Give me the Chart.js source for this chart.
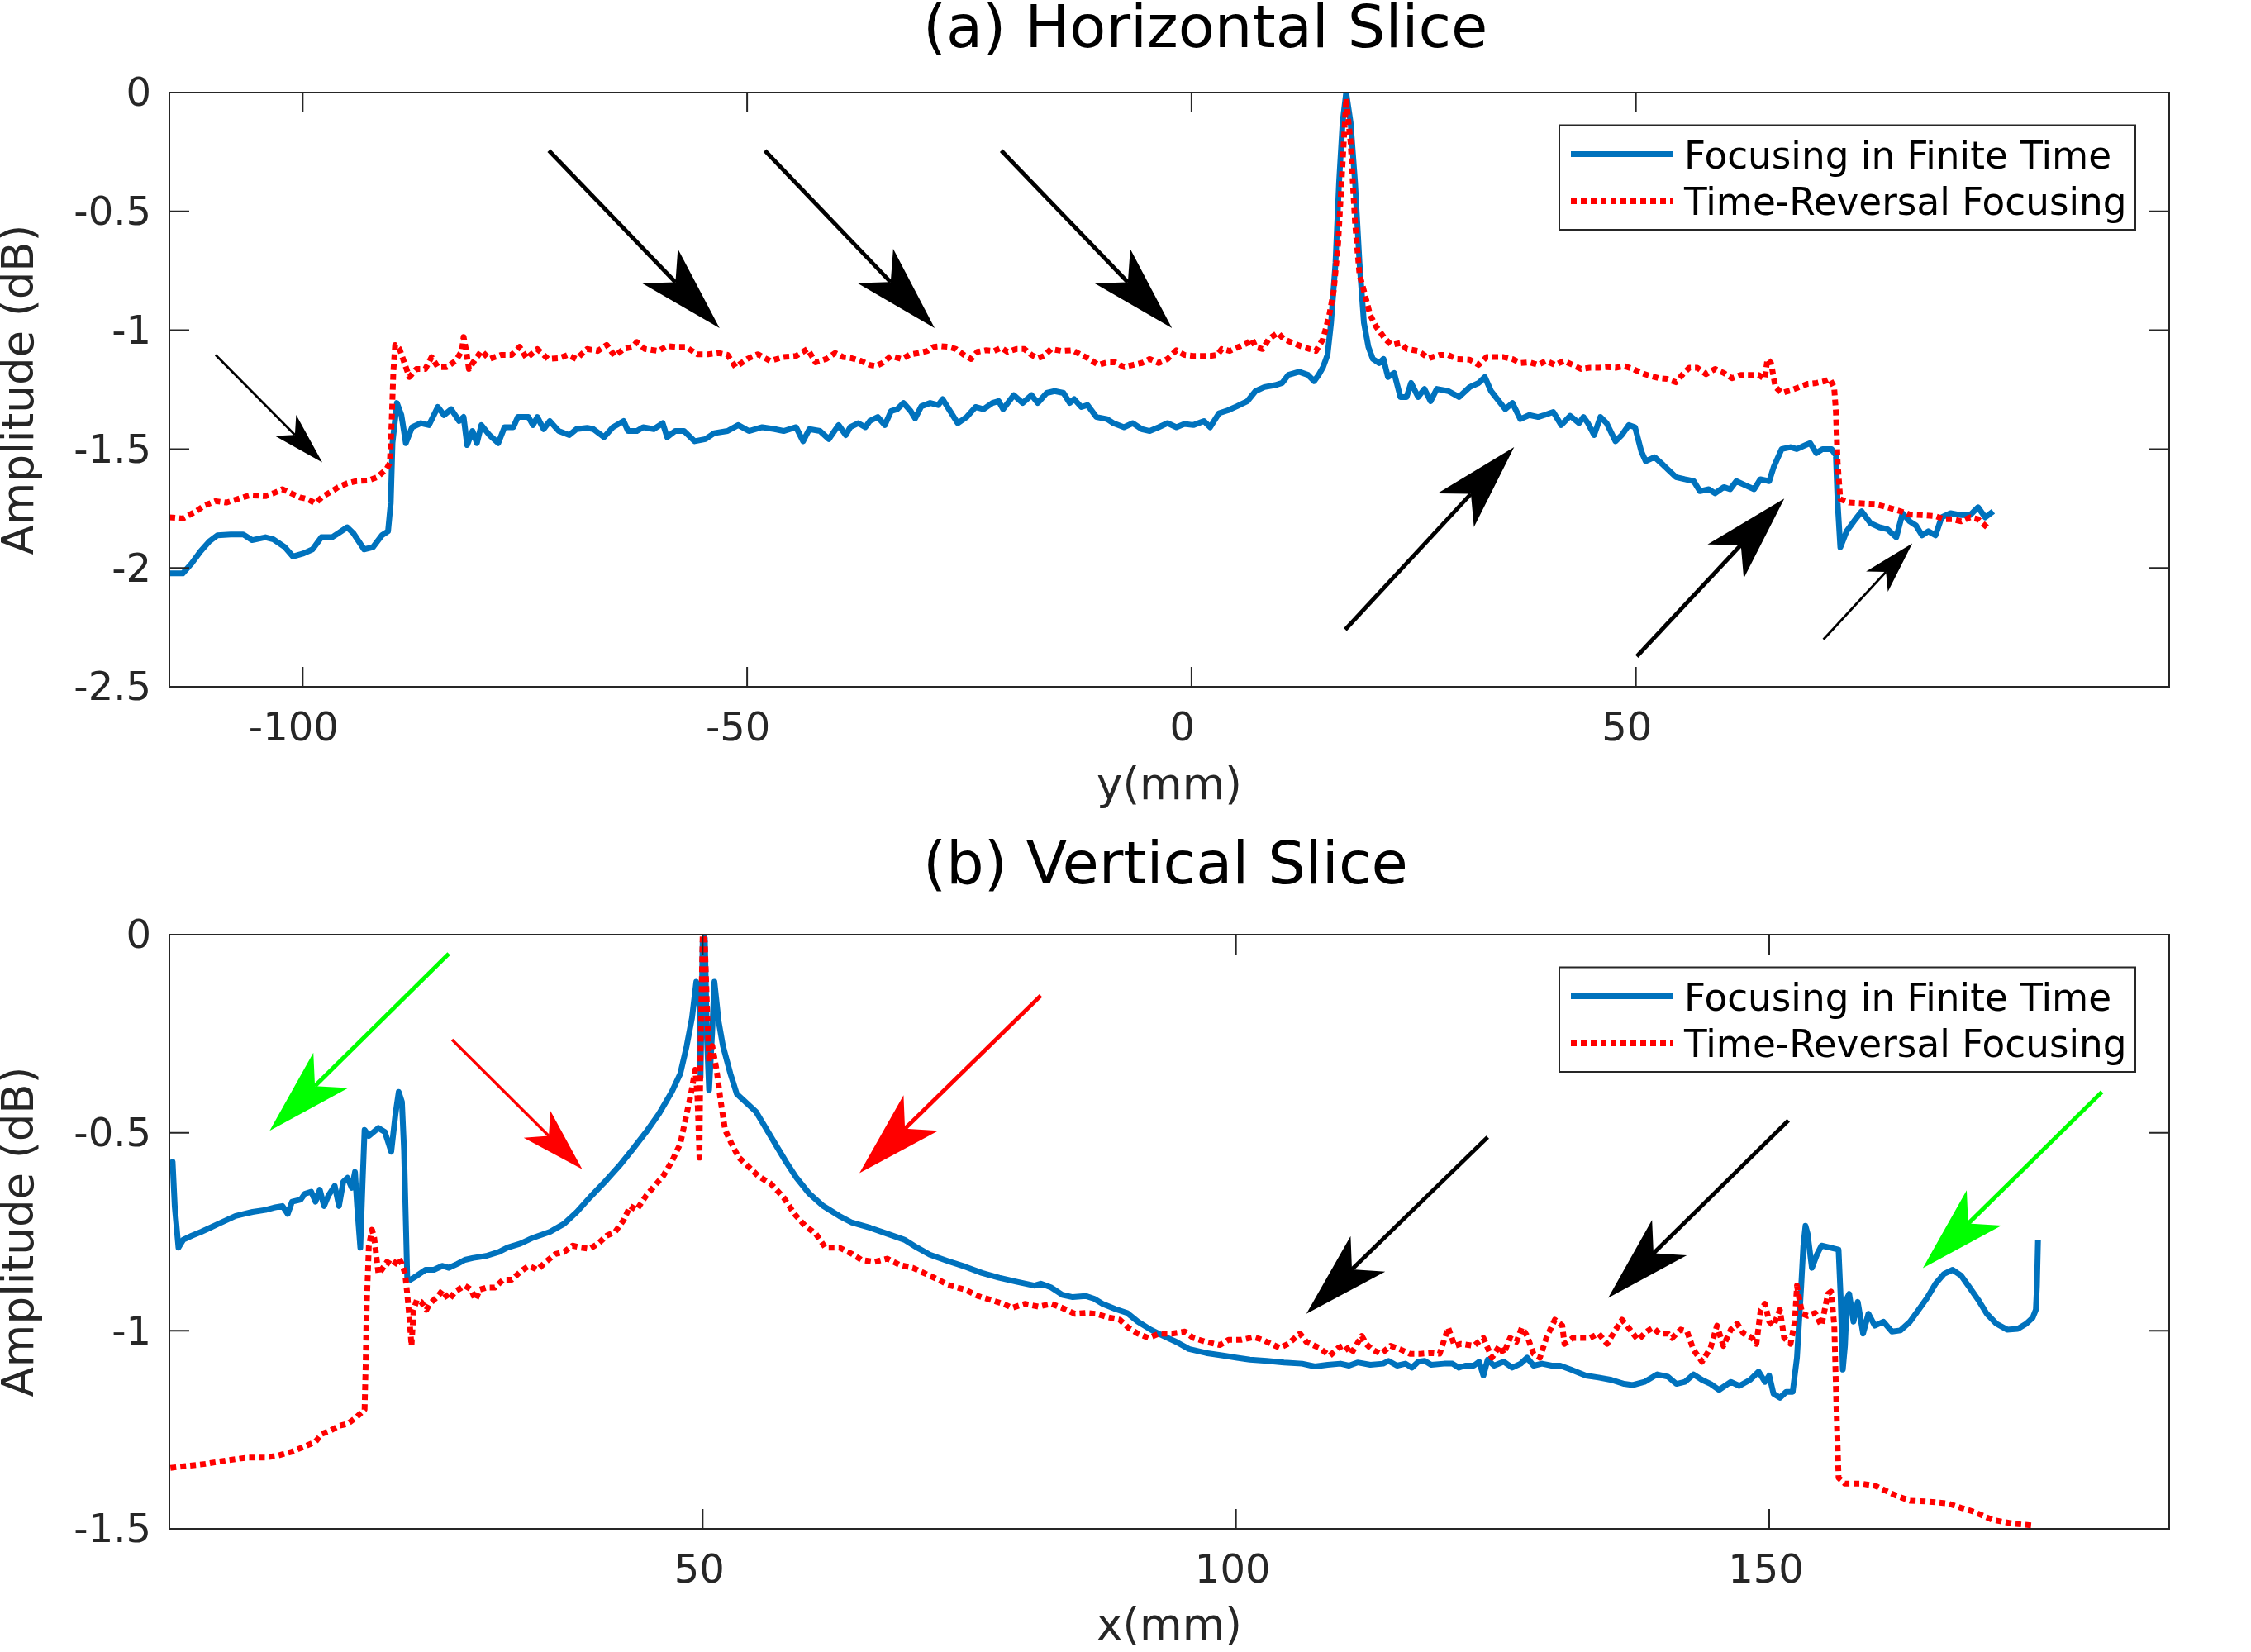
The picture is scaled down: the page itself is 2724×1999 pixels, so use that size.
<!DOCTYPE html>
<html>
<head>
<meta charset="utf-8">
<title>Horizontal and Vertical Slice</title>
<script src="https://cdn.jsdelivr.net/npm/chart.js@4.4.0/dist/chart.umd.min.js"></script>
<style>
  body { margin: 0; background: #fff; }
  canvas { position: absolute; left: 0; }
  #topChart { top: 0; }
  #bottomChart { top: 1000px; }
</style>
</head>
<body>
<canvas id="topChart" width="2724" height="1000"></canvas>
<canvas id="bottomChart" width="2724" height="999"></canvas>
<script>
// (a) horizontal slice, [y(mm), amplitude dB]
const horizFinite = [
  [-115.0,-2.023],[-113.5,-2.023],[-112.5,-1.981],[-111.5,-1.930],[-110.5,-1.888],[-109.6,-1.863],
  [-108.1,-1.859],[-106.7,-1.859],[-105.7,-1.883],[-104.2,-1.871],[-103.3,-1.880],[-102.0,-1.913],
  [-101.1,-1.952],[-99.9,-1.939],[-98.9,-1.922],[-97.9,-1.871],[-96.7,-1.871],[-96.0,-1.854],
  [-95.0,-1.829],[-94.3,-1.854],[-93.1,-1.922],[-92.1,-1.913],[-91.1,-1.863],[-90.4,-1.846],
  [-90.1,-1.728],[-89.9,-1.475],[-89.4,-1.306],[-88.9,-1.357],[-88.4,-1.475],[-87.7,-1.408],
  [-86.7,-1.391],[-85.8,-1.399],[-84.8,-1.323],[-84.1,-1.357],[-83.3,-1.332],[-82.4,-1.382],
  [-81.9,-1.365],[-81.5,-1.483],[-80.9,-1.424],[-80.4,-1.475],[-79.9,-1.399],[-79.0,-1.441],
  [-78.0,-1.475],[-77.3,-1.408],[-76.3,-1.408],[-75.8,-1.365],[-74.6,-1.365],[-74.1,-1.399],
  [-73.6,-1.365],[-72.9,-1.416],[-72.2,-1.382],[-71.2,-1.424],[-70.0,-1.441],[-69.2,-1.416],
  [-68.0,-1.411],[-67.3,-1.416],[-66.1,-1.450],[-65.1,-1.408],[-63.9,-1.382],[-63.4,-1.424],
  [-62.4,-1.424],[-61.7,-1.408],[-60.5,-1.416],[-59.5,-1.391],[-59.0,-1.450],[-58.1,-1.424],
  [-57.1,-1.424],[-55.9,-1.467],[-54.7,-1.458],[-53.7,-1.433],[-52.2,-1.424],[-51.0,-1.399],
  [-49.8,-1.424],[-48.3,-1.408],[-46.9,-1.416],[-45.9,-1.424],[-44.5,-1.408],[-43.7,-1.467],
  [-43.0,-1.416],[-41.8,-1.424],[-40.8,-1.458],[-39.7,-1.399],[-38.9,-1.441],[-38.4,-1.408],
  [-37.5,-1.391],[-36.7,-1.408],[-36.2,-1.382],[-35.3,-1.365],[-34.5,-1.399],[-33.8,-1.340],
  [-33.1,-1.332],[-32.4,-1.306],[-31.6,-1.340],[-31.1,-1.371],[-30.4,-1.320],[-29.4,-1.306],
  [-28.5,-1.315],[-28.0,-1.290],[-27.3,-1.332],[-26.3,-1.391],[-25.3,-1.365],[-24.3,-1.323],
  [-23.4,-1.332],[-22.4,-1.306],[-21.7,-1.298],[-21.2,-1.332],[-20.0,-1.273],[-19.0,-1.306],
  [-18.0,-1.273],[-17.3,-1.306],[-16.3,-1.264],[-15.4,-1.256],[-14.4,-1.264],[-13.7,-1.306],
  [-13.2,-1.290],[-12.4,-1.323],[-11.7,-1.315],[-10.7,-1.365],[-9.5,-1.374],[-8.8,-1.391],
  [-7.6,-1.408],[-6.6,-1.391],[-5.6,-1.416],[-4.7,-1.424],[-3.7,-1.408],[-2.7,-1.391],
  [-1.7,-1.408],[-0.8,-1.394],[0.2,-1.399],[1.4,-1.382],[2.1,-1.408],[3.1,-1.349],
  [4.1,-1.337],[5.1,-1.320],[6.3,-1.298],[7.2,-1.256],[8.2,-1.239],[9.4,-1.231],
  [10.2,-1.222],[10.9,-1.188],[12.1,-1.175],[13.1,-1.188],[13.8,-1.214],[14.3,-1.188],
  [14.8,-1.155],[15.3,-1.104],[15.7,-0.969],[16.2,-0.716],[16.6,-0.379],[17.0,-0.126],
  [17.4,0],[17.9,-0.126],[18.4,-0.379],[18.9,-0.716],[19.4,-0.969],[19.9,-1.070],
  [20.4,-1.121],[21.1,-1.138],[21.6,-1.121],[22.1,-1.197],[22.8,-1.180],[23.5,-1.281],
  [24.2,-1.281],[24.7,-1.222],[25.5,-1.281],[26.2,-1.247],[26.9,-1.298],[27.6,-1.247],
  [28.9,-1.256],[30.1,-1.281],[31.3,-1.239],[32.3,-1.222],[33.0,-1.197],[33.7,-1.256],
  [35.3,-1.332],[36.1,-1.306],[37.0,-1.374],[38.0,-1.357],[39.0,-1.365],[39.7,-1.357],
  [40.7,-1.344],[41.6,-1.399],[42.6,-1.360],[43.6,-1.391],[44.1,-1.365],[44.6,-1.391],
  [45.3,-1.441],[46.0,-1.365],[46.7,-1.391],[47.7,-1.467],[48.4,-1.441],[49.2,-1.399],
  [49.9,-1.408],[50.6,-1.509],[51.1,-1.551],[52.1,-1.534],[53.1,-1.568],[54.5,-1.618],
  [55.5,-1.627],[56.5,-1.635],[57.2,-1.677],[58.2,-1.669],[58.9,-1.686],[59.9,-1.660],
  [60.6,-1.669],[61.3,-1.635],[62.3,-1.652],[63.3,-1.669],[64.0,-1.627],[65.0,-1.635],
  [65.5,-1.576],[66.4,-1.500],[67.4,-1.492],[68.1,-1.500],[69.1,-1.483],[69.6,-1.475],
  [70.3,-1.517],[71.0,-1.500],[72.0,-1.500],[72.5,-1.526],[72.7,-1.728],[73.0,-1.913],
  [73.7,-1.846],[74.7,-1.795],[75.4,-1.762],[76.4,-1.812],[77.4,-1.829],[78.3,-1.837],
  [79.3,-1.871],[80.0,-1.770],[80.8,-1.804],[81.5,-1.821],[82.2,-1.863],[82.9,-1.846],
  [83.7,-1.863],[84.4,-1.787],[85.4,-1.770],[86.6,-1.778],[87.6,-1.778],[88.5,-1.745],
  [89.3,-1.787],[90.2,-1.762]
];
const horizReversal = [
  [-115.0,-1.787],[-113.5,-1.792],[-112.0,-1.762],[-111.0,-1.736],[-109.8,-1.719],[-108.6,-1.725],
  [-107.4,-1.711],[-105.9,-1.694],[-104.2,-1.698],[-103.3,-1.686],[-102.3,-1.669],[-101.3,-1.686],
  [-100.3,-1.703],[-99.4,-1.711],[-98.6,-1.728],[-97.7,-1.698],[-96.7,-1.677],[-96.0,-1.660],
  [-95.0,-1.644],[-94.0,-1.635],[-92.6,-1.632],[-91.6,-1.618],[-90.6,-1.585],[-90.2,-1.559],
  [-90.0,-1.391],[-89.8,-1.172],[-89.6,-1.062],[-89.1,-1.079],[-88.4,-1.155],[-88.0,-1.197],
  [-87.2,-1.163],[-86.2,-1.163],[-85.5,-1.113],[-84.8,-1.155],[-83.8,-1.155],[-82.8,-1.129],
  [-82.1,-1.087],[-81.9,-1.028],[-81.6,-1.087],[-81.3,-1.163],[-80.7,-1.129],[-79.9,-1.087],
  [-79.0,-1.121],[-77.7,-1.104],[-76.5,-1.104],[-75.6,-1.070],[-74.8,-1.118],[-73.6,-1.079],
  [-72.4,-1.121],[-71.2,-1.118],[-70.2,-1.104],[-69.2,-1.121],[-68.0,-1.079],[-66.8,-1.087],
  [-65.8,-1.062],[-64.9,-1.108],[-63.9,-1.079],[-62.9,-1.070],[-62.4,-1.050],[-61.5,-1.079],
  [-60.0,-1.087],[-59.0,-1.067],[-58.1,-1.070],[-56.9,-1.070],[-55.6,-1.101],[-54.4,-1.101],
  [-53.2,-1.096],[-52.2,-1.104],[-51.3,-1.155],[-50.0,-1.121],[-48.8,-1.101],[-47.4,-1.129],
  [-45.9,-1.113],[-44.5,-1.108],[-43.2,-1.079],[-42.3,-1.135],[-41.1,-1.121],[-40.1,-1.096],
  [-39.2,-1.113],[-38.2,-1.118],[-37.2,-1.129],[-36.2,-1.146],[-35.5,-1.151],[-34.8,-1.138],
  [-33.8,-1.109],[-32.6,-1.121],[-31.6,-1.101],[-30.7,-1.096],[-29.7,-1.087],[-29.0,-1.070],
  [-28.2,-1.067],[-27.3,-1.070],[-26.5,-1.079],[-25.6,-1.104],[-24.8,-1.121],[-24.1,-1.091],
  [-23.1,-1.084],[-22.2,-1.087],[-21.4,-1.074],[-20.7,-1.091],[-19.7,-1.079],[-18.8,-1.079],
  [-18.0,-1.104],[-17.3,-1.118],[-16.6,-1.108],[-15.8,-1.079],[-14.6,-1.087],[-13.4,-1.084],
  [-12.4,-1.104],[-11.5,-1.121],[-10.5,-1.146],[-9.5,-1.135],[-8.6,-1.135],[-7.6,-1.155],
  [-6.6,-1.146],[-5.6,-1.138],[-4.7,-1.121],[-3.7,-1.138],[-2.7,-1.121],[-1.7,-1.084],
  [-0.8,-1.104],[0.2,-1.108],[1.2,-1.108],[2.1,-1.108],[2.9,-1.104],[3.4,-1.079],
  [4.3,-1.087],[5.3,-1.070],[6.3,-1.054],[6.8,-1.037],[7.2,-1.070],[8.0,-1.079],
  [8.7,-1.037],[9.7,-1.011],[10.4,-1.037],[11.4,-1.054],[12.3,-1.067],[13.3,-1.079],
  [14.0,-1.087],[14.8,-1.037],[15.5,-0.936],[16.0,-0.834],[16.5,-0.632],[17.0,-0.295],
  [17.4,-0.025],[17.9,-0.211],[18.4,-0.548],[18.9,-0.767],[19.4,-0.834],[20.1,-0.936],
  [20.8,-0.986],[21.8,-1.037],[22.5,-1.062],[23.5,-1.054],[24.2,-1.079],[25.5,-1.087],
  [26.7,-1.118],[27.9,-1.104],[28.9,-1.104],[29.8,-1.121],[31.3,-1.124],[32.3,-1.146],
  [33.2,-1.113],[35.1,-1.113],[36.1,-1.121],[37.0,-1.138],[38.0,-1.135],[39.0,-1.146],
  [39.9,-1.129],[40.9,-1.146],[41.9,-1.129],[42.9,-1.146],[43.8,-1.163],[44.8,-1.158],
  [45.8,-1.158],[46.7,-1.155],[47.7,-1.158],[48.7,-1.151],[49.7,-1.163],[50.6,-1.180],
  [51.6,-1.192],[52.6,-1.202],[53.5,-1.205],[54.5,-1.219],[55.2,-1.188],[56.0,-1.158],
  [56.9,-1.158],[57.9,-1.185],[58.9,-1.163],[59.9,-1.180],[60.8,-1.202],[61.8,-1.188],
  [62.8,-1.188],[63.8,-1.188],[64.5,-1.205],[64.8,-1.121],[65.2,-1.138],[65.7,-1.239],
  [66.4,-1.264],[67.4,-1.253],[68.4,-1.239],[69.3,-1.226],[70.3,-1.222],[71.3,-1.214],
  [71.8,-1.205],[72.3,-1.239],[72.5,-1.340],[72.7,-1.559],[73.0,-1.711],[74.0,-1.725],
  [75.4,-1.728],[76.9,-1.731],[78.3,-1.745],[79.8,-1.762],[80.8,-1.775],[82.2,-1.778],
  [83.7,-1.782],[84.7,-1.795],[85.6,-1.795],[86.6,-1.804],[87.6,-1.787],[88.5,-1.795],
  [89.5,-1.829]
];

// (b) vertical slice, [x(mm), amplitude dB]
const vertFinite = [
  [0.1,-0.583],[0.3,-0.573],[0.5,-0.685],[0.85,-0.790],[1.3,-0.770],[2.1,-0.760],[3.0,-0.750],
  [3.8,-0.740],[4.6,-0.730],[5.4,-0.720],[6.2,-0.710],[7.0,-0.705],[7.8,-0.700],[9.0,-0.695],
  [9.8,-0.689],[10.6,-0.685],[11.1,-0.705],[11.5,-0.674],[12.3,-0.669],[12.7,-0.654],[13.3,-0.649],
  [13.7,-0.674],[14.1,-0.644],[14.5,-0.685],[14.9,-0.659],[15.5,-0.634],[15.9,-0.685],[16.3,-0.624],
  [16.7,-0.614],[17.1,-0.639],[17.4,-0.599],[17.6,-0.685],[17.9,-0.790],[18.1,-0.634],[18.3,-0.493],
  [18.7,-0.508],[19.6,-0.488],[20.2,-0.498],[20.8,-0.548],[21.2,-0.452],[21.5,-0.397],[21.8,-0.422],
  [22.0,-0.543],[22.3,-0.866],[22.6,-0.871],[23.2,-0.861],[24.0,-0.846],[24.8,-0.846],[25.6,-0.836],
  [26.2,-0.841],[27.0,-0.831],[27.7,-0.821],[28.5,-0.816],[29.7,-0.811],[30.9,-0.801],[31.7,-0.790],
  [32.9,-0.780],[34.1,-0.765],[35.7,-0.750],[37.0,-0.730],[38.2,-0.700],[39.4,-0.664],[41.0,-0.619],
  [42.2,-0.583],[43.4,-0.543],[44.7,-0.498],[45.9,-0.452],[47.1,-0.397],[47.9,-0.351],[48.5,-0.281],
  [49.0,-0.210],[49.4,-0.119],[49.7,-0.180],[49.8,-0.361],[50.0,-0.018],[50.2,-0.008],[50.4,-0.260],
  [50.6,-0.392],[50.9,-0.240],[51.1,-0.119],[51.5,-0.220],[51.9,-0.281],[52.6,-0.351],[53.2,-0.402],
  [54.0,-0.422],[55.0,-0.447],[55.8,-0.483],[56.8,-0.528],[57.8,-0.573],[58.8,-0.614],[60.0,-0.654],
  [61.3,-0.685],[62.8,-0.710],[64.0,-0.727],[65.7,-0.740],[67.3,-0.755],[68.9,-0.770],[70.1,-0.790],
  [71.3,-0.808],[73.0,-0.824],[74.6,-0.838],[76.2,-0.854],[77.8,-0.866],[79.4,-0.876],[81.1,-0.886],
  [81.7,-0.881],[82.7,-0.891],[83.7,-0.909],[84.7,-0.915],[85.9,-0.912],[86.7,-0.919],[87.5,-0.932],
  [88.7,-0.945],[89.8,-0.955],[90.8,-0.977],[92.0,-0.997],[93.2,-1.013],[94.4,-1.028],[95.6,-1.046],
  [97.2,-1.056],[98.9,-1.063],[100.1,-1.068],[101.3,-1.073],[102.9,-1.076],[104.5,-1.080],[106.2,-1.083],
  [107.4,-1.090],[108.6,-1.086],[109.8,-1.083],[110.6,-1.088],[111.4,-1.080],[112.6,-1.086],[113.8,-1.083],
  [114.3,-1.076],[115.1,-1.088],[115.9,-1.083],[116.5,-1.093],[117.1,-1.078],[117.7,-1.076],[118.3,-1.086],
  [119.5,-1.083],[120.3,-1.083],[120.9,-1.093],[121.5,-1.088],[122.3,-1.088],[122.8,-1.078],[123.2,-1.113],
  [123.6,-1.073],[124.2,-1.088],[125.1,-1.078],[125.9,-1.093],[126.7,-1.083],[127.3,-1.068],[127.9,-1.088],
  [128.7,-1.083],[129.6,-1.088],[130.4,-1.088],[131.4,-1.098],[132.8,-1.113],[134.0,-1.118],[135.2,-1.124],
  [136.4,-1.134],[137.2,-1.137],[138.3,-1.129],[139.5,-1.110],[140.5,-1.116],[141.3,-1.134],[142.1,-1.129],
  [142.9,-1.110],[143.7,-1.124],[144.5,-1.134],[145.3,-1.149],[146.4,-1.129],[147.2,-1.139],[148.2,-1.124],
  [149.0,-1.103],[149.6,-1.129],[150.0,-1.113],[150.4,-1.159],[151.0,-1.169],[151.6,-1.154],[152.2,-1.154],
  [152.6,-1.068],[153.0,-0.886],[153.2,-0.785],[153.4,-0.735],[153.6,-0.755],[154.0,-0.841],[154.5,-0.806],
  [154.9,-0.785],[155.7,-0.790],[156.5,-0.795],[156.7,-0.917],[156.9,-1.098],[157.1,-1.038],[157.3,-0.917],
  [157.5,-0.907],[157.9,-0.977],[158.3,-0.927],[158.8,-1.007],[159.3,-0.957],[159.9,-0.987],[160.7,-0.977],
  [161.5,-1.002],[162.3,-0.999],[163.2,-0.977],[164.0,-0.947],[164.8,-0.917],[165.6,-0.881],[166.4,-0.856],
  [167.2,-0.846],[168.0,-0.861],[168.8,-0.891],[169.6,-0.922],[170.4,-0.957],[171.3,-0.982],[172.3,-0.997],
  [173.3,-0.995],[174.1,-0.982],[174.7,-0.967],[175.0,-0.947],[175.1,-0.886],[175.2,-0.770]
];
const vertReversal = [
  [0.1,-1.346],[1.7,-1.341],[3.4,-1.336],[5.4,-1.327],[7.4,-1.320],[9.0,-1.320],[10.2,-1.315],
  [11.5,-1.305],[12.7,-1.292],[13.7,-1.280],[14.3,-1.260],[15.1,-1.252],[15.9,-1.240],[16.7,-1.235],
  [17.5,-1.219],[18.3,-1.199],[18.4,-1.088],[18.5,-0.937],[18.7,-0.785],[19.0,-0.745],[19.2,-0.765],
  [19.6,-0.856],[19.9,-0.846],[20.4,-0.826],[21.0,-0.836],[21.5,-0.816],[21.8,-0.831],[22.1,-0.856],
  [22.3,-0.907],[22.5,-0.967],[22.7,-1.038],[22.9,-0.947],[23.2,-0.922],[23.6,-0.927],[24.1,-0.947],
  [24.4,-0.932],[25.2,-0.912],[25.6,-0.898],[26.2,-0.922],[26.8,-0.901],[27.7,-0.886],[28.3,-0.896],
  [28.7,-0.922],[29.1,-0.896],[29.7,-0.891],[30.5,-0.891],[31.3,-0.871],[32.1,-0.871],[32.9,-0.851],
  [33.7,-0.836],[34.5,-0.846],[35.3,-0.826],[36.2,-0.806],[37.0,-0.801],[37.8,-0.785],[38.6,-0.790],
  [39.4,-0.793],[40.2,-0.780],[41.0,-0.760],[41.8,-0.750],[42.6,-0.720],[43.2,-0.685],[43.8,-0.695],
  [44.7,-0.659],[45.5,-0.634],[46.3,-0.609],[47.1,-0.573],[47.9,-0.528],[48.5,-0.452],[48.9,-0.402],
  [49.3,-0.341],[49.5,-0.402],[49.7,-0.563],[49.8,-0.281],[50.0,0],[50.2,-0.018],[50.4,-0.180],
  [50.6,-0.321],[50.9,-0.281],[51.3,-0.341],[51.7,-0.422],[52.1,-0.493],[52.8,-0.533],[53.4,-0.563],
  [54.2,-0.583],[55.2,-0.609],[56.4,-0.629],[57.6,-0.664],[58.6,-0.705],[59.6,-0.735],[60.6,-0.755],
  [61.5,-0.790],[62.8,-0.790],[64.0,-0.806],[64.9,-0.821],[66.1,-0.826],[67.3,-0.818],[68.5,-0.834],
  [69.7,-0.841],[70.9,-0.856],[72.1,-0.871],[73.0,-0.884],[74.6,-0.896],[75.8,-0.912],[77.0,-0.922],
  [78.2,-0.932],[79.0,-0.942],[80.2,-0.932],[81.5,-0.939],[82.7,-0.932],[83.7,-0.942],[84.9,-0.957],
  [85.9,-0.955],[86.9,-0.957],[87.9,-0.965],[89.1,-0.972],[89.9,-0.992],[90.8,-1.007],[91.8,-1.018],
  [92.8,-1.007],[94.0,-1.007],[95.2,-1.002],[96.0,-1.018],[97.2,-1.028],[98.5,-1.036],[99.3,-1.023],
  [100.5,-1.023],[101.7,-1.016],[102.5,-1.023],[103.3,-1.033],[104.1,-1.043],[104.9,-1.033],[106.0,-1.007],
  [106.6,-1.028],[107.8,-1.043],[108.8,-1.063],[109.6,-1.043],[110.2,-1.036],[110.8,-1.058],[111.8,-1.013],
  [112.2,-1.033],[112.8,-1.048],[113.6,-1.058],[114.5,-1.038],[115.5,-1.048],[116.3,-1.058],[117.3,-1.058],
  [118.3,-1.056],[119.1,-1.058],[119.9,-0.992],[120.5,-1.038],[121.1,-1.033],[122.3,-1.038],[123.2,-1.018],
  [124.0,-1.068],[124.7,-1.038],[125.1,-1.058],[125.7,-1.018],[126.3,-1.028],[126.8,-0.992],[127.3,-1.013],
  [127.9,-1.058],[128.5,-1.068],[129.1,-1.018],[129.9,-0.972],[130.6,-0.987],[130.8,-1.033],[131.6,-1.018],
  [132.4,-1.018],[133.2,-1.018],[134.0,-1.007],[134.8,-1.033],[135.6,-0.997],[136.2,-0.972],[136.8,-0.992],
  [137.7,-1.023],[138.5,-1.002],[139.1,-0.992],[139.7,-1.007],[140.5,-1.007],[140.9,-1.018],[141.7,-0.997],
  [142.3,-1.002],[142.9,-1.048],[143.7,-1.078],[144.5,-1.043],[145.1,-0.987],[145.7,-1.038],[146.4,-0.997],
  [147.0,-0.982],[147.6,-1.007],[148.4,-1.018],[148.8,-1.033],[149.2,-0.947],[149.6,-0.932],[150.0,-0.977],
  [150.4,-0.987],[151.0,-0.947],[151.4,-1.018],[152.0,-1.033],[152.4,-0.977],[152.6,-0.886],[152.8,-0.917],
  [153.1,-0.957],[153.6,-0.962],[154.3,-0.955],[154.9,-0.987],[155.5,-0.907],[155.8,-0.901],[156.1,-0.987],
  [156.3,-1.189],[156.5,-1.371],[157.1,-1.386],[158.7,-1.386],[159.9,-1.391],[161.1,-1.406],[161.9,-1.416],
  [163.2,-1.429],[164.8,-1.431],[166.8,-1.436],[168.0,-1.447],[169.2,-1.457],[170.9,-1.477],[172.9,-1.487],
  [174.9,-1.492]
];

const horizXTicks = [-100, -50, 0, 50];
const horizYTicks = [-2.5, -2, -1.5, -1, -0.5, 0];
const vertXTicks = [50, 100, 150];
const vertYTicks = [-1.5, -1, -0.5, 0];

// annotation arrows, tail -> tip in data units
const horizArrows = [
  { from: [-109.8, -1.104], to: [-97.8, -1.556], color: '#000000', kind: 'thin' },
  { from: [-72.3, -0.244], to: [-53.1, -0.991], color: '#000000', kind: 'thick' },
  { from: [-48.0, -0.244], to: [-28.9, -0.991], color: '#000000', kind: 'thick' },
  { from: [-21.4, -0.244], to: [-2.2, -0.991], color: '#000000', kind: 'thick' },
  { from: [17.3, -2.259], to: [36.3, -1.492], color: '#000000', kind: 'thick' },
  { from: [50.1, -2.372], to: [66.7, -1.708], color: '#000000', kind: 'thick' },
  { from: [71.1, -2.301], to: [81.1, -1.897], color: '#000000', kind: 'thin' }
];
const vertArrows = [
  { from: [26.2, -0.048], to: [9.4, -0.495], color: '#00ff00', kind: 'thick' },
  { from: [26.5, -0.265], to: [38.7, -0.592], color: '#ff0000', kind: 'medium' },
  { from: [81.7, -0.154], to: [64.7, -0.602], color: '#ff0000', kind: 'thick' },
  { from: [123.6, -0.511], to: [106.6, -0.957], color: '#000000', kind: 'thick' },
  { from: [151.8, -0.469], to: [134.9, -0.917], color: '#000000', kind: 'thick' },
  { from: [181.2, -0.397], to: [164.4, -0.842], color: '#00ff00', kind: 'thick' }
];

const FONT = 'DejaVu Sans';
const AXIS_COLOR = '#262626';
const BLUE = '#0072bd';
const RED = '#ff0000';
const DOTS = [7, 5];

const arrowKinds = {
  thick: { width: 5, len: 104, half: 30, notch: 77 },
  medium: { width: 3.4, len: 77, half: 23, notch: 57 },
  thin: { width: 2.8, len: 63, half: 18, notch: 47 }
};

function drawArrow(ctx, x0, y0, x1, y1, color, st) {
  const len = Math.hypot(x1 - x0, y1 - y0);
  const ux = (x1 - x0) / len, uy = (y1 - y0) / len;
  const px = -uy, py = ux;
  const bx = x1 - ux * st.len, by = y1 - uy * st.len;
  const nx = x1 - ux * st.notch, ny = y1 - uy * st.notch;
  ctx.strokeStyle = color;
  ctx.fillStyle = color;
  ctx.lineWidth = st.width;
  ctx.lineCap = 'butt';
  ctx.setLineDash([]);
  ctx.beginPath();
  ctx.moveTo(x0, y0);
  ctx.lineTo(nx, ny);
  ctx.stroke();
  ctx.beginPath();
  ctx.moveTo(x1, y1);
  ctx.lineTo(bx + px * st.half, by + py * st.half);
  ctx.lineTo(nx, ny);
  ctx.lineTo(bx - px * st.half, by - py * st.half);
  ctx.closePath();
  ctx.fill();
}

// box, inner ticks, legend, arrows and the panel title, MATLAB style
const matlabLook = {
  id: 'matlabLook',
  afterDatasetsDraw(chart, args, opts) {
    const ctx = chart.ctx;
    const a = chart.chartArea;
    const xs = chart.scales.x, ys = chart.scales.y;
    ctx.save();

    ctx.strokeStyle = AXIS_COLOR;
    ctx.lineWidth = 2;
    ctx.setLineDash([]);
    ctx.strokeRect(a.left, a.top, a.right - a.left, a.bottom - a.top);
    ctx.beginPath();
    xs.ticks.forEach(t => {
      const px = xs.getPixelForValue(t.value);
      ctx.moveTo(px, a.bottom); ctx.lineTo(px, a.bottom - 24);
      ctx.moveTo(px, a.top); ctx.lineTo(px, a.top + 24);
    });
    ys.ticks.forEach(t => {
      const py = ys.getPixelForValue(t.value);
      ctx.moveTo(a.left, py); ctx.lineTo(a.left + 24, py);
      ctx.moveTo(a.right, py); ctx.lineTo(a.right - 24, py);
    });
    ctx.stroke();

    // legend box in the top right corner
    const boxR = a.right - 41, boxL = boxR - 697, boxT = a.top + 39.5, boxH = 126.5;
    ctx.fillStyle = '#ffffff';
    ctx.fillRect(boxL, boxT, boxR - boxL, boxH);
    ctx.strokeStyle = AXIS_COLOR;
    ctx.lineWidth = 2;
    ctx.strokeRect(boxL, boxT, boxR - boxL, boxH);
    ctx.font = '45.3px "' + FONT + '"';
    ctx.textAlign = 'left';
    ctx.textBaseline = 'alphabetic';
    chart.data.datasets.forEach((ds, i) => {
      const ly = boxT + 35 + i * 57;
      ctx.strokeStyle = ds.borderColor;
      ctx.lineWidth = ds.borderWidth;
      ctx.setLineDash(ds.borderDash || []);
      ctx.beginPath();
      ctx.moveTo(boxL + 14, ly);
      ctx.lineTo(boxL + 138, ly);
      ctx.stroke();
      ctx.setLineDash([]);
      ctx.fillStyle = '#000000';
      ctx.fillText(ds.label, boxL + 151, boxT + 52 + i * 56.5);
    });

    opts.arrows.forEach(ar => {
      drawArrow(ctx,
        xs.getPixelForValue(ar.from[0]), ys.getPixelForValue(ar.from[1]),
        xs.getPixelForValue(ar.to[0]), ys.getPixelForValue(ar.to[1]),
        ar.color, arrowKinds[ar.kind]);
    });

    ctx.font = '72px "' + FONT + '"';
    ctx.fillStyle = '#000000';
    ctx.textAlign = 'left';
    ctx.textBaseline = 'alphabetic';
    ctx.fillText(opts.title, opts.titleX, opts.titleY);
    ctx.restore();
  }
};

function toPoints(pairs) {
  return pairs.map(p => ({ x: p[0], y: p[1] }));
}

function makeChart(canvasId, cfg) {
  const tickFont = { family: FONT, size: 48 };
  const labelFont = { family: FONT, size: 53, lineHeight: 1 };
  return new Chart(document.getElementById(canvasId), {
    type: 'scatter',
    data: {
      datasets: [
        {
          label: 'Focusing in Finite Time',
          data: toPoints(cfg.finite),
          showLine: true,
          borderColor: BLUE,
          borderWidth: 7,
          borderJoinStyle: 'round',
          pointRadius: 0,
          tension: 0,
          order: 1
        },
        {
          label: 'Time-Reversal Focusing',
          data: toPoints(cfg.reversal),
          showLine: true,
          borderColor: RED,
          borderWidth: 7,
          borderDash: DOTS,
          borderJoinStyle: 'round',
          pointRadius: 0,
          tension: 0,
          order: 0
        }
      ]
    },
    options: {
      responsive: false,
      animation: false,
      events: [],
      layout: { padding: { left: 0, right: 99, top: cfg.top, bottom: 0 } },
      scales: {
        x: {
          type: 'linear',
          min: cfg.xMin,
          max: cfg.xMax,
          afterBuildTicks: s => { s.ticks = cfg.xTicks.map(v => ({ value: v })); },
          afterFit: s => { s.height = cfg.xAxisHeight; },
          ticks: {
            font: tickFont, color: AXIS_COLOR, padding: 24,
            maxRotation: 0, minRotation: 0, autoSkip: false,
            labelOffset: cfg.xLabelOffset,
            callback: v => String(v)
          },
          grid: { display: false, drawTicks: false },
          border: { display: false },
          title: {
            display: true, text: cfg.xTitle, font: labelFont, color: AXIS_COLOR,
            padding: { top: 0, bottom: cfg.xTitlePad }
          }
        },
        y: {
          type: 'linear',
          min: cfg.yMin,
          max: 0,
          afterBuildTicks: s => { s.ticks = cfg.yTicks.map(v => ({ value: v })); },
          afterFit: s => { s.width = 205; },
          ticks: {
            font: tickFont, color: AXIS_COLOR, padding: 22, labelOffset: 4,
            callback: v => String(v)
          },
          grid: { display: false, drawTicks: false },
          border: { display: false },
          title: {
            display: true, text: 'Amplitude (dB)', font: labelFont, color: AXIS_COLOR,
            padding: { top: 0, bottom: 0 }
          }
        }
      },
      plugins: {
        legend: { display: false },
        tooltip: { enabled: false },
        matlabLook: { arrows: cfg.arrows, title: cfg.title, titleX: 1117, titleY: cfg.titleY }
      }
    },
    plugins: [matlabLook]
  });
}

makeChart('topChart', {
  finite: horizFinite, reversal: horizReversal,
  xMin: -115, xMax: 110, yMin: -2.5,
  xTicks: horizXTicks, yTicks: horizYTicks, xLabelOffset: -11,
  top: 112, xAxisHeight: 169, xTitle: 'y(mm)', xTitlePad: 20,
  arrows: horizArrows, title: '(a) Horizontal Slice', titleY: 57
});

makeChart('bottomChart', {
  finite: vertFinite, reversal: vertReversal,
  xMin: 0, xMax: 187.5, yMin: -1.5,
  xTicks: vertXTicks, yTicks: vertYTicks, xLabelOffset: -4,
  top: 131, xAxisHeight: 149, xTitle: 'x(mm)', xTitlePad: 2,
  arrows: vertArrows, title: '(b) Vertical Slice', titleY: 69
});
</script>
</body>
</html>
